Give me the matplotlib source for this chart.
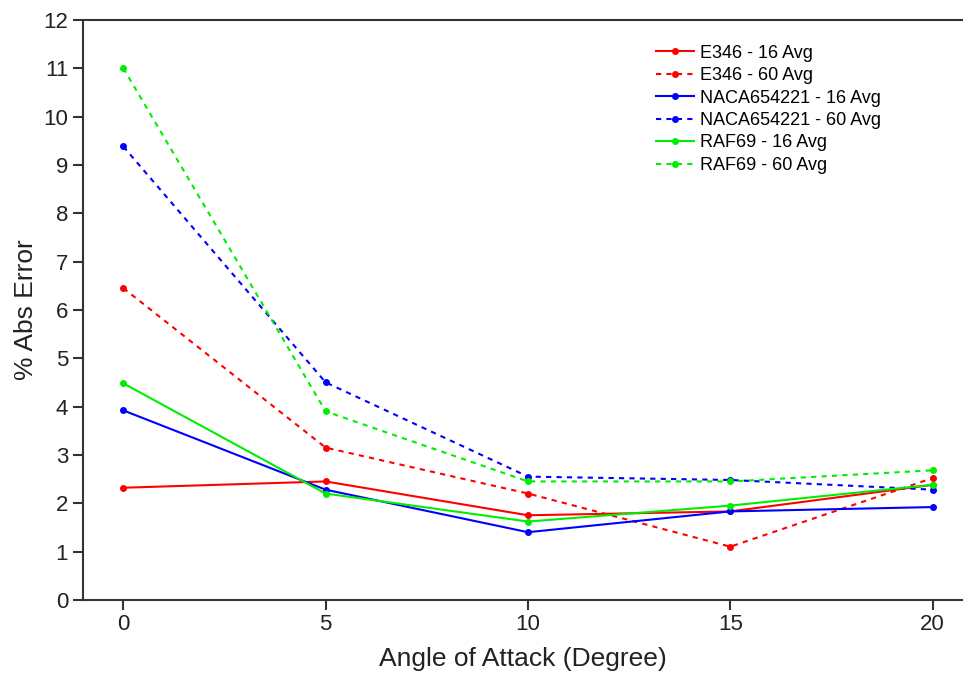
import matplotlib
matplotlib.use("Agg")
import matplotlib.pyplot as plt

plt.rcParams["font.family"] = ["Liberation Sans", "DejaVu Sans"]

# --- data ---
angles = [0, 5, 10, 15, 20]

e346_16 = [2.32, 2.45, 1.75, 1.83, 2.38]
e346_60 = [6.45, 3.15, 2.20, 1.10, 2.52]
naca_16 = [3.92, 2.28, 1.40, 1.83, 1.92]
naca_60 = [9.38, 4.50, 2.55, 2.48, 2.28]
raf_16 = [4.48, 2.20, 1.62, 1.95, 2.38]
raf_60 = [11.0, 3.90, 2.45, 2.45, 2.68]

dash = (0, (2.5, 2.5))
series = [
    ("E346 - 16 Avg", e346_16, "#ff0000", "-"),
    ("E346 - 60 Avg", e346_60, "#ff0000", dash),
    ("NACA654221 - 16 Avg", naca_16, "#0000ff", "-"),
    ("NACA654221 - 60 Avg", naca_60, "#0000ff", dash),
    ("RAF69 - 16 Avg", raf_16, "#00ee00", "-"),
    ("RAF69 - 60 Avg", raf_60, "#00ee00", dash),
]

fig = plt.figure(figsize=(9.63, 6.84), dpi=100)
ax = fig.add_axes([0.086, 0.123, 0.914, 0.848])

for label, vals, color, ls in series:
    ax.plot(angles, vals, color=color, linestyle=ls, linewidth=1.5,
            marker="o", markersize=4, label=label)

ax.set_xlim(-1, 20.75)
ax.set_ylim(0, 12)
ax.set_xticks(angles)
ax.set_yticks(range(0, 13))
ax.tick_params(direction="out", length=7, width=1.5, labelsize=16,
               color="#333333", labelcolor="#222222")
for side in ["left", "bottom", "top"]:
    ax.spines[side].set_linewidth(1.5)
    ax.spines[side].set_color("#333333")
ax.spines["right"].set_visible(False)

ax.set_xlabel("Angle of Attack (Degree)", fontsize=19, color="#222222", labelpad=8)
ax.set_ylabel("% Abs Error", fontsize=19, color="#222222")

ax.legend(loc="upper right", bbox_to_anchor=(0.925, 0.985), frameon=False,
          fontsize=13, handlelength=2.1, labelspacing=0.3, handletextpad=0.3)

plt.savefig("out.png", dpi=100)
plt.close()
